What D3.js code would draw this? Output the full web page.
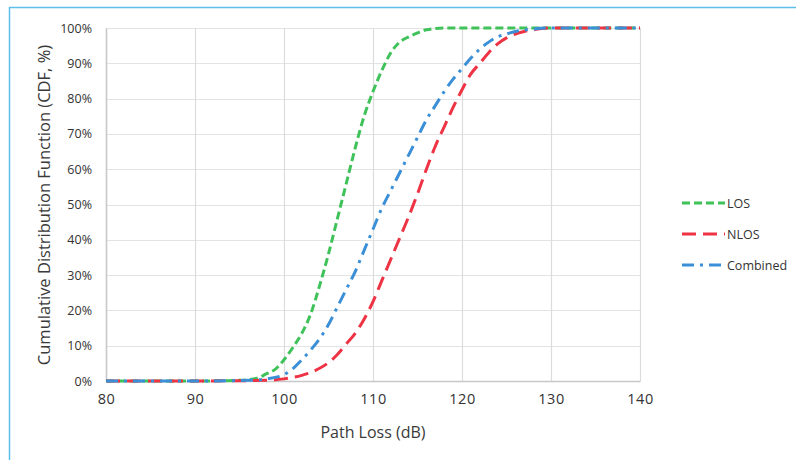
<!DOCTYPE html>
<html><head><meta charset="utf-8">
<script src="https://cdn.jsdelivr.net/npm/d3@7"></script>
<style>body{margin:0;background:#fff;}svg{display:block;font-family:"Open Sans",sans-serif;}</style>
</head><body><svg id="c" width="796" height="460"></svg>
<script>
const xTicks = [80, 90, 100, 110, 120, 130, 140];
const yTicks = [0, 10, 20, 30, 40, 50, 60, 70, 80, 90, 100];
const seriesNames = ["LOS", "NLOS", "Combined"];
const losX = [80, 90, 95, 97, 98, 99, 100, 101, 102, 103, 104, 105, 106, 107, 108, 109, 110, 111, 112, 113, 114, 115, 116, 118, 140];
const losY = [0, 0, 0.2, 0.8, 2, 3.3, 6, 9.5, 13.5, 19, 27, 36, 46, 56, 66, 75, 82, 88, 93, 96, 97.5, 98.6, 99.5, 100, 100];
const nlosX = [80, 90, 98, 100, 101, 102, 103, 104, 105, 106, 107, 108, 109, 110, 111, 112, 113, 114, 115, 116, 117, 118, 119, 120, 121, 122, 123, 124, 125, 126, 127, 128, 130, 140];
const nlosY = [0, 0, 0.2, 0.6, 1, 1.6, 2.4, 3.6, 5.2, 7.5, 10.5, 13.5, 17.5, 22.5, 28.5, 34.5, 40.5, 46.5, 53, 60, 66.5, 72, 77.5, 82.5, 87, 90, 93, 95.5, 97.2, 98.3, 99, 99.5, 100, 100];
const combX = [80, 90, 96, 98, 100, 101, 102, 103, 104, 105, 106, 107, 108, 109, 110, 111, 112, 113, 114, 115, 116, 117, 118, 119, 120, 121, 122, 123, 124, 125, 126, 128, 130, 140];
const combY = [0, 0, 0.2, 0.6, 1.8, 3.5, 6, 8.8, 12, 16, 21, 26, 31, 37, 43, 49, 54, 59, 64, 69, 74, 78, 82, 85.5, 88.5, 91.5, 94, 96, 97.5, 98.3, 99, 99.7, 100, 100];

const svg = d3.select("#c");
const x = d3.scaleLinear().domain([80, 140]).range([106, 640]);
const y = d3.scaleLinear().domain([0, 100]).range([381, 28]);

// outer frame
svg.append("line").attr("x1", 9).attr("x2", 796).attr("y1", 7.5).attr("y2", 7.5).attr("stroke", "#5cc0ea").attr("stroke-width", 1.5);
svg.append("line").attr("x1", 9.5).attr("x2", 9.5).attr("y1", 7).attr("y2", 460).attr("stroke", "#5cc0ea").attr("stroke-width", 1.5);

// grid
svg.append("g").selectAll("line").data(yTicks).join("line")
  .attr("x1", 106).attr("x2", 640).attr("y1", d => Math.round(y(d)) + 0.5).attr("y2", d => Math.round(y(d)) + 0.5)
  .attr("stroke", "#e3e3e3").attr("stroke-width", 1);
svg.append("g").selectAll("line").data(xTicks).join("line")
  .attr("y1", 28).attr("y2", 381).attr("x1", d => Math.round(x(d)) + 0.5).attr("x2", d => Math.round(x(d)) + 0.5)
  .attr("stroke", "#dcdcdc").attr("stroke-width", 1.2);

// axes
const xAxis = d3.axisBottom(x).tickValues(xTicks).tickSize(0).tickPadding(13);
const gx = svg.append("g").attr("transform", "translate(0,381)").call(xAxis);
gx.select(".domain").attr("stroke", "#c8c8c8").attr("stroke-width", 1.5);
gx.selectAll("text").attr("font-size", 14.5).attr("fill", "#333").attr("font-family", "Open Sans").attr("letter-spacing", 0.5);

const yAxis = d3.axisLeft(y).tickValues(yTicks).tickSize(0).tickPadding(14).tickFormat(d => d + "%");
const gy = svg.append("g").attr("transform", "translate(106,0)").call(yAxis);
gy.select(".domain").attr("stroke", "#c8c8c8").attr("stroke-width", 1.5);
gy.selectAll("text").attr("font-size", 12.5).attr("fill", "#333").attr("font-family", "Open Sans");

// axis titles
svg.append("text").attr("x", 373).attr("y", 438).attr("text-anchor", "middle")
  .attr("font-size", 16).attr("fill", "#3a3a3a").text("Path Loss (dB)");
svg.append("text").attr("transform", "translate(50,205) rotate(-90)").attr("text-anchor", "middle")
  .attr("font-size", 16.5).attr("fill", "#3a3a3a").text("Cumulative Distribution Function (CDF, %)");

// series
const series = [
  {name: seriesNames[0], xs: losX, ys: losY, color: "#3fc25a", dash: "8,4"},
  {name: seriesNames[1], xs: nlosX, ys: nlosY, color: "#ee3344", dash: "14,7"},
  {name: seriesNames[2], xs: combX, ys: combY, color: "#3b8fd6", dash: "12,6,3,6"}
];
const line = d3.line().x(d => x(d[0])).y(d => y(d[1])).curve(d3.curveMonotoneX);
series.forEach(s => {
  const pts = s.xs.map((v, i) => [v, s.ys[i]]);
  svg.append("path").datum(pts).attr("d", line).attr("fill", "none")
    .attr("stroke", s.color).attr("stroke-width", 3).attr("stroke-dasharray", s.dash);
});

// legend
const lg = svg.append("g");
series.forEach((s, i) => {
  const yy = 203 + i * 31;
  lg.append("line").attr("x1", 682).attr("x2", 725).attr("y1", yy).attr("y2", yy)
    .attr("stroke", s.color).attr("stroke-width", 3).attr("stroke-dasharray", s.dash);
  lg.append("text").attr("x", 727).attr("y", yy + 4.5).attr("font-size", 12.5).attr("fill", "#333").text(s.name);
});
</script></body></html>
